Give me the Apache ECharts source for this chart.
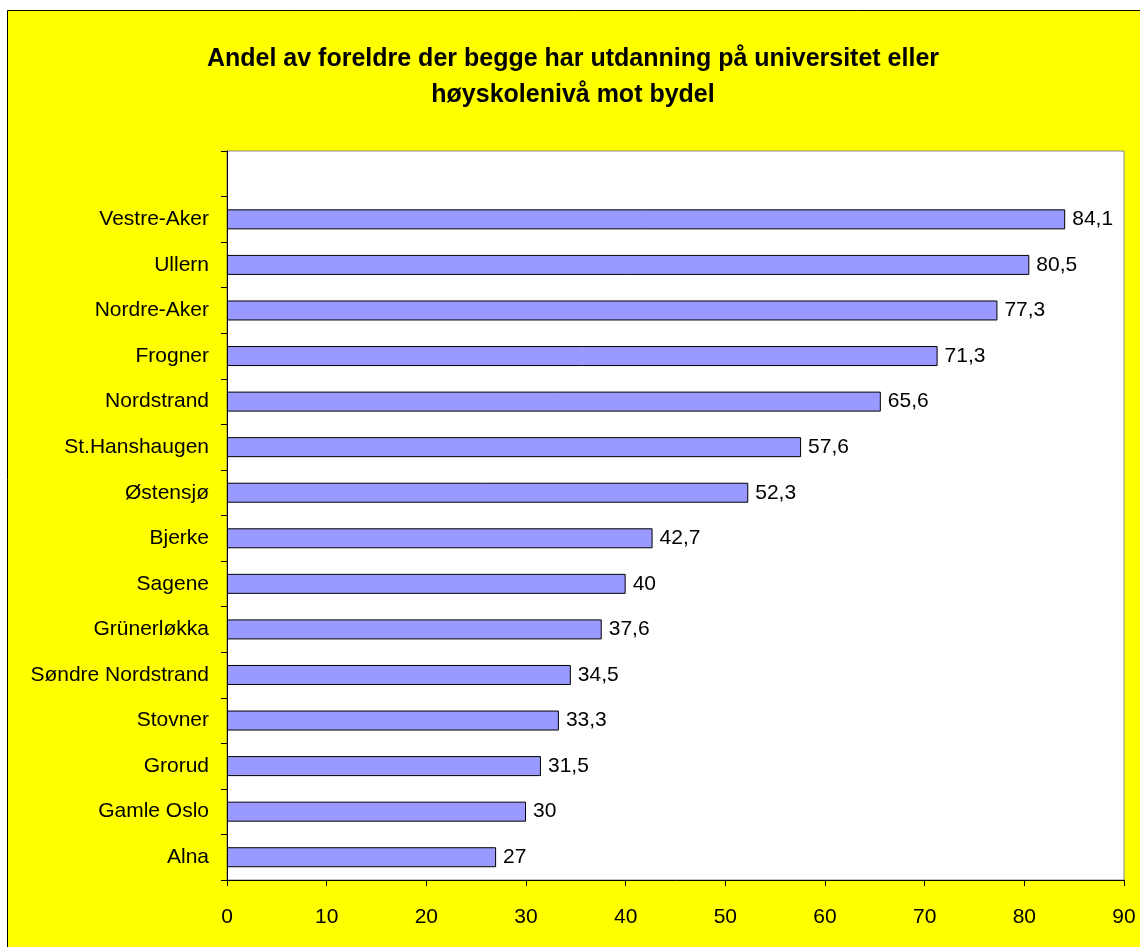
<!DOCTYPE html>
<html>
<head>
<meta charset="utf-8">
<script src="https://cdn.jsdelivr.net/npm/echarts@6/dist/echarts.min.js"></script>
<style>
  html, body { margin: 0; padding: 0; background: #fff; }
  #main { width: 1140px; height: 947px; }
</style>
</head>
<body>
<div id="main"></div>
<script>
var dom = document.getElementById('main');
var myChart = echarts.init(dom, null, { renderer: 'canvas' });

// bottom to top, empty slot at the top like the original
const districts = ['Alna', 'Gamle Oslo', 'Grorud', 'Stovner', 'Søndre Nordstrand', 'Grünerløkka',
  'Sagene', 'Bjerke', 'Østensjø', 'St.Hanshaugen', 'Nordstrand', 'Frogner', 'Nordre-Aker',
  'Ullern', 'Vestre-Aker', ''];
const shares = [27, 30, 31.5, 33.3, 34.5, 37.6, 40, 42.7, 52.3, 57.6, 65.6, 71.3, 77.3, 80.5, 84.1, null];

const font = 'Liberation Sans, Arial, sans-serif';

var option = {
  backgroundColor: '#fff',
  animation: false,
  graphic: [
    {
      type: 'rect',
      z: -10,
      shape: { x: 7.5, y: 10.5, width: 1140, height: 940 },
      style: { fill: '#ffff00', stroke: '#000', lineWidth: 1 }
    }
  ],
  title: {
    text: 'Andel av foreldre der begge har utdanning på universitet eller\nhøyskolenivå mot bydel',
    left: 568,
    textAlign: 'center',
    top: 36,
    textStyle: { fontFamily: font, fontSize: 25, fontWeight: 'bold', color: '#000', lineHeight: 36 }
  },
  grid: {
    left: 227,
    top: 151,
    right: 16,
    bottom: 67,
    show: true,
    backgroundColor: '#fff',
    borderColor: '#888',
    borderWidth: 1
  },
  xAxis: {
    type: 'value',
    min: 0,
    max: 90,
    interval: 10,
    splitLine: { show: false },
    axisLine: { show: true, lineStyle: { color: '#000' } },
    axisTick: { show: true, length: 6, lineStyle: { color: '#000' } },
    axisLabel: { fontFamily: font, fontSize: 21, color: '#000', margin: 27 }
  },
  yAxis: {
    type: 'category',
    data: districts,
    boundaryGap: true,
    axisLine: { show: true, lineStyle: { color: '#000' } },
    axisTick: { show: true, length: 6, lineStyle: { color: '#000' } },
    axisLabel: { fontFamily: font, fontSize: 21, color: '#000', margin: 18 }
  },
  series: [
    {
      type: 'bar',
      data: shares,
      barWidth: 20,
      itemStyle: { color: '#9999ff', borderColor: '#000', borderWidth: 1 },
      label: {
        show: true,
        position: 'right',
        distance: 7,
        fontFamily: font,
        fontSize: 21,
        color: '#000',
        formatter: function (p) { return String(p.value).replace('.', ','); }
      }
    }
  ]
};

myChart.setOption(option);
window.addEventListener('resize', myChart.resize);
</script>
</body>
</html>
